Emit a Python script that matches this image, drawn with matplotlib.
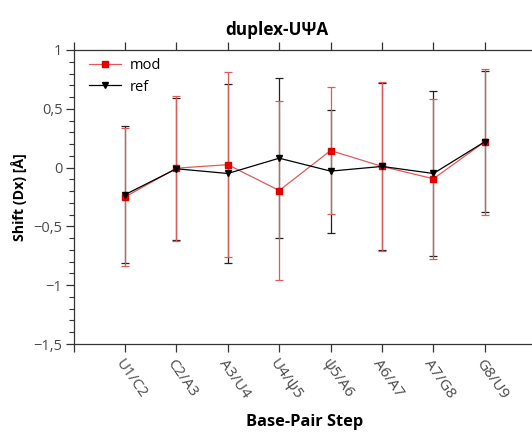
import numpy as np
import matplotlib
matplotlib.use("Agg")
import matplotlib.pyplot as plt
from matplotlib.ticker import MultipleLocator, FuncFormatter

plt.rcParams['font.family'] = ['Open Sans', 'DejaVu Sans']

# base-pair steps
steps = ["U1/C2", "C2/A3", "A3/U4", "U4/\u03c85", "\u03c85/A6", "A6/A7", "A7/G8", "G8/U9"]

# mod series (mean, sd)
mod_val = [-0.25, -0.005, 0.025, -0.195, 0.145, 0.01, -0.095, 0.22]
mod_err = [0.59, 0.615, 0.785, 0.765, 0.537, 0.715, 0.68, 0.62]

# ref series (mean, sd)
ref_val = [-0.23, -0.01, -0.05, 0.08, -0.03, 0.01, -0.05, 0.22]
ref_err = [0.585, 0.604, 0.765, 0.678, 0.523, 0.71, 0.705, 0.60]

x = np.arange(1, len(steps) + 1)

W, H = 532, 432
fig = plt.figure(figsize=(W / 100, H / 100), dpi=100)
ax_l, ax_b, ax_w, ax_h = 73.6, 88, 472.9, 294
ax = fig.add_axes([ax_l / W, ax_b / H, ax_w / W, ax_h / H])

spine_col = "#333333"
lab_col = "#4a4a4a"

# error bars
ax.errorbar(x, ref_val, yerr=ref_err, fmt="none", ecolor="#222222",
            elinewidth=0.9, capsize=3, capthick=0.9, zorder=2)
ax.errorbar(x, mod_val, yerr=mod_err, fmt="none", ecolor="#d95c5c",
            elinewidth=0.9, capsize=3, capthick=0.9, zorder=3)

# lines + markers
ax.plot(x, mod_val, color="#e05a5a", lw=0.9, marker="s", ms=5,
        mfc="#ee0000", mec="#dd0000", label="mod", zorder=4)
ax.plot(x, ref_val, color="black", lw=0.9, marker="v", ms=4.5,
        mfc="black", mec="black", label="ref", zorder=5)

ax.set_xlim(0, 9.2)
ax.set_ylim(-1.5, 1)

ax.set_xticks(range(0, 10))
ax.set_xticklabels([""] + steps + [""], rotation=-55, ha="left", va="top",
                   rotation_mode="anchor", fontsize=11, color=lab_col)
ax.yaxis.set_major_locator(MultipleLocator(0.5))
ax.yaxis.set_minor_locator(MultipleLocator(0.1))
ax.yaxis.set_major_formatter(FuncFormatter(
    lambda v, p: ("%g" % v).replace(".", ",").replace("-", "\u2212")))

ax.tick_params(axis="x", which="major", direction="out", length=6, width=0.9,
               top=True, bottom=True, color=spine_col, pad=3)
ax.tick_params(axis="y", which="major", direction="out", length=6, width=0.9,
               color=spine_col, labelsize=10.5, labelcolor=lab_col, pad=2)
ax.tick_params(axis="y", which="minor", direction="out", length=3.5, width=0.8,
               color=spine_col)

for s in ["left", "bottom", "top"]:
    ax.spines[s].set_color(spine_col)
    ax.spines[s].set_linewidth(0.9)
ax.spines["right"].set_visible(False)

ax.set_title("duplex-U\u03a8A", fontsize=12.3, fontweight="bold", pad=11,
             x=(277 - ax_l) / ax_w)
ax.set_ylabel("Shift (Dx) [\u00c5]", fontsize=10.2, fontweight="bold", labelpad=5)
ax.set_xlabel("Base-Pair Step", fontsize=11.8, fontweight="bold", labelpad=8,
              x=(304.5 - ax_l) / ax_w)

ax.legend(loc="upper left", frameon=False, fontsize=10.5, handlelength=2.2,
          borderpad=0, borderaxespad=0, labelspacing=0.45, handletextpad=0.6,
          bbox_to_anchor=((89 - ax_l) / ax_w, 1 - (58 - 50) / ax_h))

fig.savefig("out.png", dpi=100)
